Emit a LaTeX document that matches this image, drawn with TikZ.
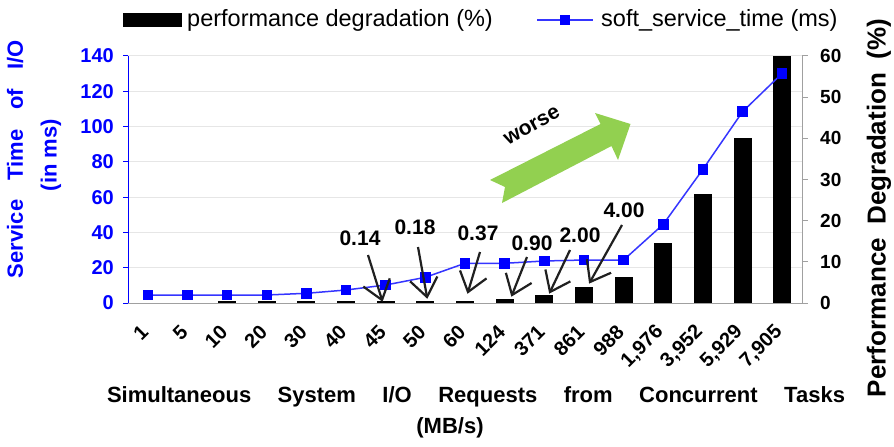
\documentclass[tikz,border=0pt]{standalone}
\usepackage{fontspec}
\setmainfont{Liberation Sans}
\usetikzlibrary{calc}
\definecolor{gridgray}{HTML}{E6E6E6}
\definecolor{axisgray}{HTML}{A0A0A0}
\definecolor{worsegreen}{HTML}{92D050}
\definecolor{lineblue}{HTML}{3535FF}
\definecolor{arrowblack}{HTML}{202020}
\newcommand\myfs[1]{\fontsize{#1}{#1}\selectfont}
\begin{document}
\begin{tikzpicture}[x=1pt,y=-1pt,
  bar/.style={fill=black,draw=none},
  marker/.style={rectangle,fill=blue,draw=none,minimum size=10.5pt,inner sep=0pt},
  ltick/.style={font=\myfs{20}\bfseries,text=blue,anchor=east,inner sep=0pt},
  rtick/.style={font=\myfs{19}\bfseries,anchor=west,inner sep=0pt},
  xtick/.style={font=\myfs{20}\bfseries,anchor=east,rotate=45,inner sep=0pt},
  val/.style={font=\myfs{21}\bfseries,inner sep=0pt},
  callout/.style={draw=arrowblack,line width=2.2pt,line join=miter},
  legtext/.style={font=\myfs{23.5},anchor=west,inner sep=0pt},
  title/.style={font=\myfs{22}\bfseries,inner sep=0pt},
]
\useasboundingbox (0,0) rectangle (894,447);
\fill[white] (0,0) rectangle (894,447);
% grid
\foreach \k in {1,...,7}
  \draw[gridgray,line width=1pt] (128,{303-35.286*\k}) -- (802,{303-35.286*\k});
% bars
\foreach \i/\t in {2/300.5,3/300.5,4/300.5,5/300.5,6/300.5,7/300.5,8/300.5,9/299.3,10/294.8,11/286.5,12/276.7,13/242.7,14/194,15/138.3,16/56}
  \fill[bar] ({147.8+39.65*\i-9},\t) rectangle ({147.8+39.65*\i+9},303);
% axes
\draw[axisgray,line width=1pt] (128,303) -- (802,303);
\draw[blue,line width=1pt] (128,56) -- (128,303);
\foreach \k in {0,...,7}
  \draw[blue,line width=1pt] (123,{303-35.286*\k}) -- (128,{303-35.286*\k});
\draw[axisgray,line width=1pt] (802,56) -- (802,303);
\foreach \k in {0,...,6}
  \draw[axisgray,line width=1pt] (802,{303-41.167*\k}) -- (808,{303-41.167*\k});
% left tick labels
\foreach \v [count=\k from 0] in {0,20,40,60,80,100,120,140}
  \node[ltick] (lt\k) at (114,{303-35.286*\k}) {\v};
% right tick labels
\foreach \v [count=\k from 0] in {0,10,20,30,40,50,60}
  \node[rtick] (rt\k) at (820,{303-41.167*\k}) {\v};
% x tick labels
\foreach \lab [count=\i from 0] in {1,5,10,20,30,40,45,50,60,124,371,861,988,{1,976},{3,952},{5,929},{7,905}}
  \node[xtick] (xt\i) at ({147.8+39.65*\i-3},329) {\lab};
% service time line
\foreach \i/\y in {0/295,1/295,2/295,3/295,4/293.3,5/290,6/285,7/277.3,8/263.3,9/263.3,10/261,11/260,12/260,13/224.3,14/169.3,15/111.7,16/73.3}
  \coordinate (p\i) at ({147.8+39.65*\i},\y);
\draw[lineblue,line width=1.5pt] (p0) -- (p1) -- (p2) -- (p3) -- (p4) -- (p5) -- (p6) -- (p7) -- (p8) -- (p9) -- (p10) -- (p11) -- (p12) -- (p13) -- (p14) -- (p15) -- (p16);
\foreach \i in {0,...,16}
  \node[marker] (m\i) at (p\i) {};
% green arrow
\fill[worsegreen] (490,180) -- (600.5,124) -- (595,113) -- (630.5,124) -- (618,160) -- (611.5,146) -- (502,203) -- (505,187) -- cycle;
\node[font=\myfs{21}\bfseries,rotate=29,inner sep=0pt] (worse) at (532,126) {worse};
% value labels and callouts
\node[val] (v1) at (360,238) {0.14};
\node[val] (v2) at (415,227) {0.18};
\node[val] (v3) at (478,233) {0.37};
\node[val] (v4) at (532,243) {0.90};
\node[val] (v5) at (580,235) {2.00};
\node[val] (v6) at (624,210) {4.00};
\coordinate (a1s) at (368,255); \coordinate (a1e) at (382,300);
\coordinate (a2s) at (418,247); \coordinate (a2e) at (427,297);
\coordinate (a3s) at (480,252); \coordinate (a3e) at (468,292);
\coordinate (a4s) at (527,257); \coordinate (a4e) at (512,295);
\coordinate (a5s) at (570,250); \coordinate (a5e) at (550,292);
\coordinate (a6s) at (622,225); \coordinate (a6e) at (590,282);
\foreach \j in {1,...,6}{
  \draw[callout] (a\j s) -- (a\j e);
  \draw[callout] ($(a\j e)!23pt!37:(a\j s)$) -- (a\j e) -- ($(a\j e)!23pt!-37:(a\j s)$);
}
% legend
\node[fill=black,minimum width=59pt,minimum height=14pt,inner sep=0pt] (legbar) at (152.5,20) {};
\node[legtext] (leg1) at (187,20) {performance degradation (\%)};
\coordinate (ll1) at (537,20); \coordinate (ll2) at (593,20);
\draw[lineblue,line width=1.5pt] (ll1) -- (ll2);
\node[marker] (legm) at (565,20) {};
\node[legtext] (leg2) at (601,20) {soft\_service\_time (ms)};
% axis titles
\node[title,text=blue,rotate=90] (yt1) at (15,159) {\makebox[238pt][s]{Service Time of I/O}};
\node[title,text=blue,rotate=90] (yt2) at (51,155) {(in ms)};
\node[font=\myfs{26}\bfseries,inner sep=0pt,rotate=90] (yr) at (879,208) {\makebox[378pt][s]{Performance Degradation (\%)}};
\node[title] (xt) at (476,397) {\makebox[738pt][s]{Simultaneous System I/O Requests from Concurrent Tasks}};
\node[title] (xu) at (450,428) {(MB/s)};
\end{tikzpicture}
\end{document}
